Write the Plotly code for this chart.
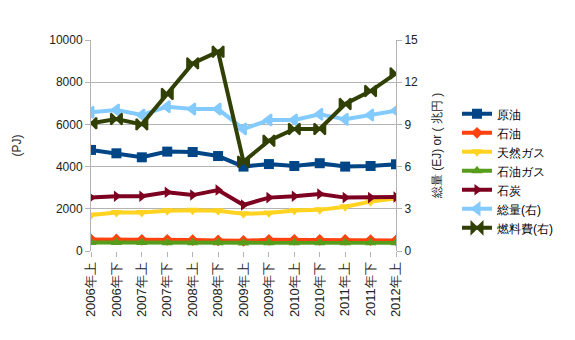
import plotly.graph_objects as go

categories = ["2006年上", "2006年下", "2007年上", "2007年下", "2008年上", "2008年下",
              "2009年上", "2009年下", "2010年上", "2010年下", "2011年上", "2011年下", "2012年上"]

crude = [4790, 4630, 4440, 4710, 4690, 4500, 4000, 4120, 4030, 4160, 4000, 4030, 4110]
oil = [550, 550, 530, 530, 520, 500, 480, 530, 530, 530, 530, 520, 500]
natgas = [1710, 1820, 1820, 1910, 1930, 1910, 1760, 1800, 1920, 1950, 2100, 2340, 2490]
lpg = [400, 400, 400, 390, 390, 390, 380, 390, 390, 390, 390, 390, 390]
coal = [2530, 2590, 2590, 2780, 2650, 2890, 2180, 2530, 2590, 2700, 2530, 2530, 2560]
total_right = [9.86, 10.02, 9.67, 10.26, 10.09, 10.09, 8.67, 9.31, 9.31, 9.72, 9.36, 9.67, 9.98]
fuelcost_right = [9.08, 9.38, 9.0, 11.16, 13.34, 14.17, 6.35, 7.84, 8.67, 8.67, 10.45, 11.37, 12.63]

series_left = [
    ("原油", crude, "#004586", "square", 10),
    ("石油", oil, "#ff420e", "diamond", 9),
    ("天然ガス", natgas, "#ffd320", "triangle-down", 10),
    ("石油ガス", lpg, "#579d1c", "triangle-up", 10),
    ("石炭", coal, "#7e0021", "triangle-right", 10),
]
series_right = [
    ("総量(右)", total_right, "#83caff", "triangle-left", 10),
    ("燃料費(右)", fuelcost_right, "#314004", "bowtie", 11),
]

x = list(range(len(categories)))
fig = go.Figure()
for name, vals, col, sym, sz in series_left:
    fig.add_trace(go.Scatter(x=x, y=vals, name=name, mode="lines+markers",
                             line=dict(color=col, width=4),
                             marker=dict(symbol=sym, size=sz, color=col)))
for name, vals, col, sym, sz in series_right:
    fig.add_trace(go.Scatter(x=x, y=vals, name=name, mode="lines+markers", yaxis="y2",
                             line=dict(color=col, width=4),
                             marker=dict(symbol=sym, size=sz, color=col,
                                         line=dict(color=col, width=2))))

font = dict(family="Liberation Sans, Arial, sans-serif", size=12, color="#222222")
fig.update_layout(
    width=575, height=340,
    margin=dict(l=91, r=179, t=40, b=89),
    paper_bgcolor="white", plot_bgcolor="white",
    font=font,
    showlegend=True,
    legend=dict(x=1.2, y=0.38, xanchor="left", yanchor="middle",
                font=dict(size=12, color="#000000"), tracegroupgap=0,
                itemwidth=30),
    xaxis=dict(tickmode="array", tickvals=x, ticktext=categories, tickangle=-90,
               range=[0, len(categories) - 1], showgrid=False,
               showline=False, ticks="outside", ticklen=5, tickcolor="#b3b3b3",
               zeroline=False, tickfont=dict(size=13)),
    yaxis=dict(range=[0, 10000], dtick=2000, tickformat="d", showgrid=True,
               gridcolor="#b3b3b3",
               showline=True, linecolor="#b3b3b3", ticks="outside", ticklen=5,
               tickcolor="#b3b3b3", zeroline=False,
               title=dict(text="(PJ)", standoff=25, font=dict(size=12)),
               tickfont=dict(size=12)),
    yaxis2=dict(range=[0, 15], dtick=3, overlaying="y", side="right", showgrid=False,
                showline=True, linecolor="#b3b3b3", ticks="outside", ticklen=5,
                tickcolor="#b3b3b3", zeroline=False,
                title=dict(text="総量 (EJ) or ( 兆円 )", standoff=15, font=dict(size=12)),
                tickfont=dict(size=12)),
)
fig.write_html("out.html")
